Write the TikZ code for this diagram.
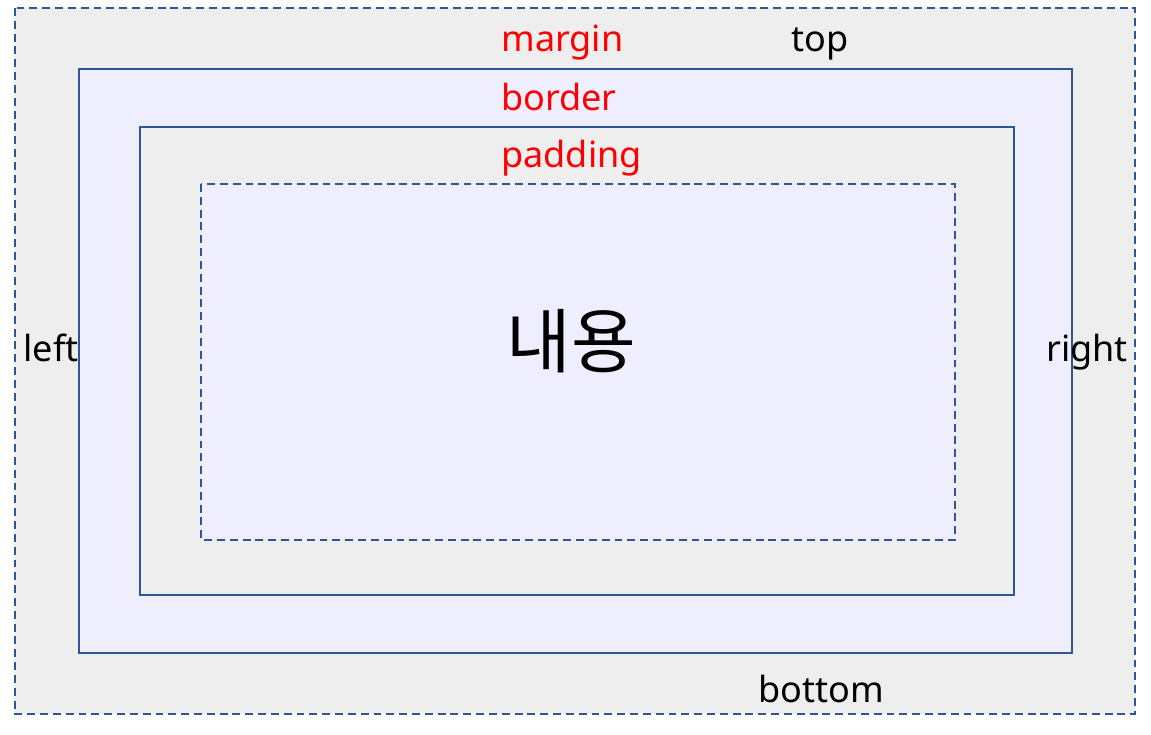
\documentclass[tikz,border=0pt]{standalone}
\usepackage{fontspec}
\setmainfont{Noto Sans}
\newfontfamily\korfont{Noto Sans CJK KR}
\definecolor{boxline}{HTML}{2F5597}
\definecolor{boxgray}{HTML}{EEEEEE}
\definecolor{boxlav}{HTML}{EEEEFE}
\definecolor{labred}{HTML}{FF0000}
\tikzset{
    edgebox/.style={draw=boxline, line width=1.2pt},
    dashbox/.style={edgebox, dash pattern=on 4.5pt off 2.8pt},
    lab/.style={inner sep=0pt, anchor=base, font=\fontsize{20.5}{24}\selectfont},
    redlab/.style={lab, anchor=base west, text=labred}
}
\begin{document}
\begin{tikzpicture}[x=0.02cm, y=-0.02cm]
    \useasboundingbox (0, 0) rectangle (1151, 734);
    \draw[dashbox, fill=boxgray](15, 8) rectangle (1135, 714);
    \draw[edgebox, fill=boxlav](79, 69) rectangle (1072, 653);
    \draw[edgebox, fill=boxgray](140, 127) rectangle (1014, 595);
    \draw[dashbox, fill=boxlav](201, 184) rectangle (955, 540);
        \node[redlab] (margin) at (501, 51){margin};
        \node[lab] (top) at (820, 51){top};
        \node[redlab] (border) at (501, 110){border};
        \node[redlab] (padding) at (501, 167){padding};
        \node[lab] (left) at (51, 361){left};
        \node[lab] (right) at (1087, 361){right};
        \node[lab] (bottom) at (821, 702){bottom};
        \node[inner sep=0pt, font=\korfont\fontsize{40}{48}\selectfont] (content) at (571, 341){내용};
\end{tikzpicture}
\end{document}
